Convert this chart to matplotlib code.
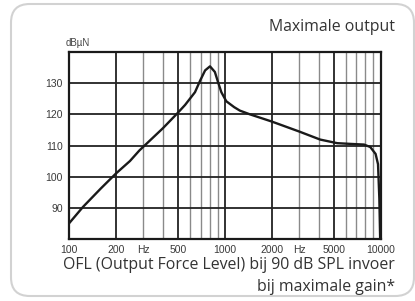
import numpy as np
import matplotlib
matplotlib.use("Agg")
import matplotlib.pyplot as plt
from matplotlib.patches import FancyBboxPatch

# curve
freq = [100, 123, 160, 200, 246, 283, 400, 500, 556, 644, 696, 748, 804,
        864, 906, 951, 1023, 1150, 1250, 1450, 2000, 3000, 4100, 5270,
        6500, 7840, 8600, 9300, 9640, 9830, 9950]
level = [85, 90.3, 96.2, 101, 105, 108.4, 115.5, 120.5, 123, 127.1, 130.9,
         134.1, 135.4, 133.6, 130.3, 127.1, 124.2, 122.3, 121.2, 120, 117.7,
         114.5, 111.9, 110.75, 110.5, 110.3, 109.5, 107.3, 104, 93, 80]

major_x = [200, 500, 1000, 2000, 5000]
minor_x = [300, 400, 600, 700, 800, 900, 3000, 4000, 6000, 7000, 8000, 9000]
grid_y = [90, 100, 110, 120, 130]

xtick_pos = [100, 200, 300, 500, 1000, 2000, 3000, 5000, 10000]
xtick_lab = ["100", "200", "Hz", "500", "1000", "2000", "Hz", "5000", "10000"]

W, H = 415, 301
fig = plt.figure(figsize=(W / 100, H / 100), dpi=100)

box = FancyBboxPatch((11 / W, 5 / H), 403 / W, 292 / H,
                     boxstyle="round,pad=0,rounding_size=0.045",
                     transform=fig.transFigure, facecolor="none",
                     edgecolor="#d2d2d2", linewidth=1.5, mutation_aspect=W / H,
                     zorder=-1)
fig.patches.append(box)

ax = fig.add_axes([69 / W, (H - 239) / H, 311.5 / W, 187 / H])
ax.set_xscale("log")
ax.set_xlim(100, 10000)
ax.set_ylim(80, 140)

for x in minor_x:
    ax.axvline(x, color="#8a8a8a", linewidth=1.0, zorder=1)
for x in major_x:
    ax.axvline(x, color="#222222", linewidth=1.3, zorder=2)
for y in grid_y:
    ax.axhline(y, color="#222222", linewidth=1.3, zorder=2)

ax.plot(freq, level, color="#1a1a1a", linewidth=1.7, solid_joinstyle="round",
        zorder=3)

for s in ax.spines.values():
    s.set_linewidth(1.6)
    s.set_color("#1a1a1a")

ax.minorticks_off()
ax.set_xticks(xtick_pos)
ax.set_xticklabels(xtick_lab)
ax.set_yticks(grid_y)
ax.tick_params(length=0, labelsize=7.5, labelcolor="#3a3a3a")
ax.tick_params(axis="x", pad=4.5)
ax.tick_params(axis="y", pad=4.5)
for t in ax.get_xticklabels() + ax.get_yticklabels():
    t.set_family("Liberation Sans")

fig.text(66 / W, 1 - 43 / H, "dBµN", fontsize=7, color="#444444",
         family="Liberation Sans", va="center", ha="left")
fig.text(395 / W, 1 - 27 / H, "Maximale output", fontsize=11.4,
         color="#333333", family="Open Sans", ha="right", va="center")
fig.text(395 / W, 1 - 265 / H, "OFL (Output Force Level) bij 90 dB SPL invoer",
         fontsize=11.4, color="#333333", family="Open Sans", ha="right",
         va="center")
fig.text(395 / W, 1 - 287 / H, "bij maximale gain*", fontsize=11.4,
         color="#333333", family="Open Sans", ha="right", va="center")

fig.savefig("out.png", dpi=100)
